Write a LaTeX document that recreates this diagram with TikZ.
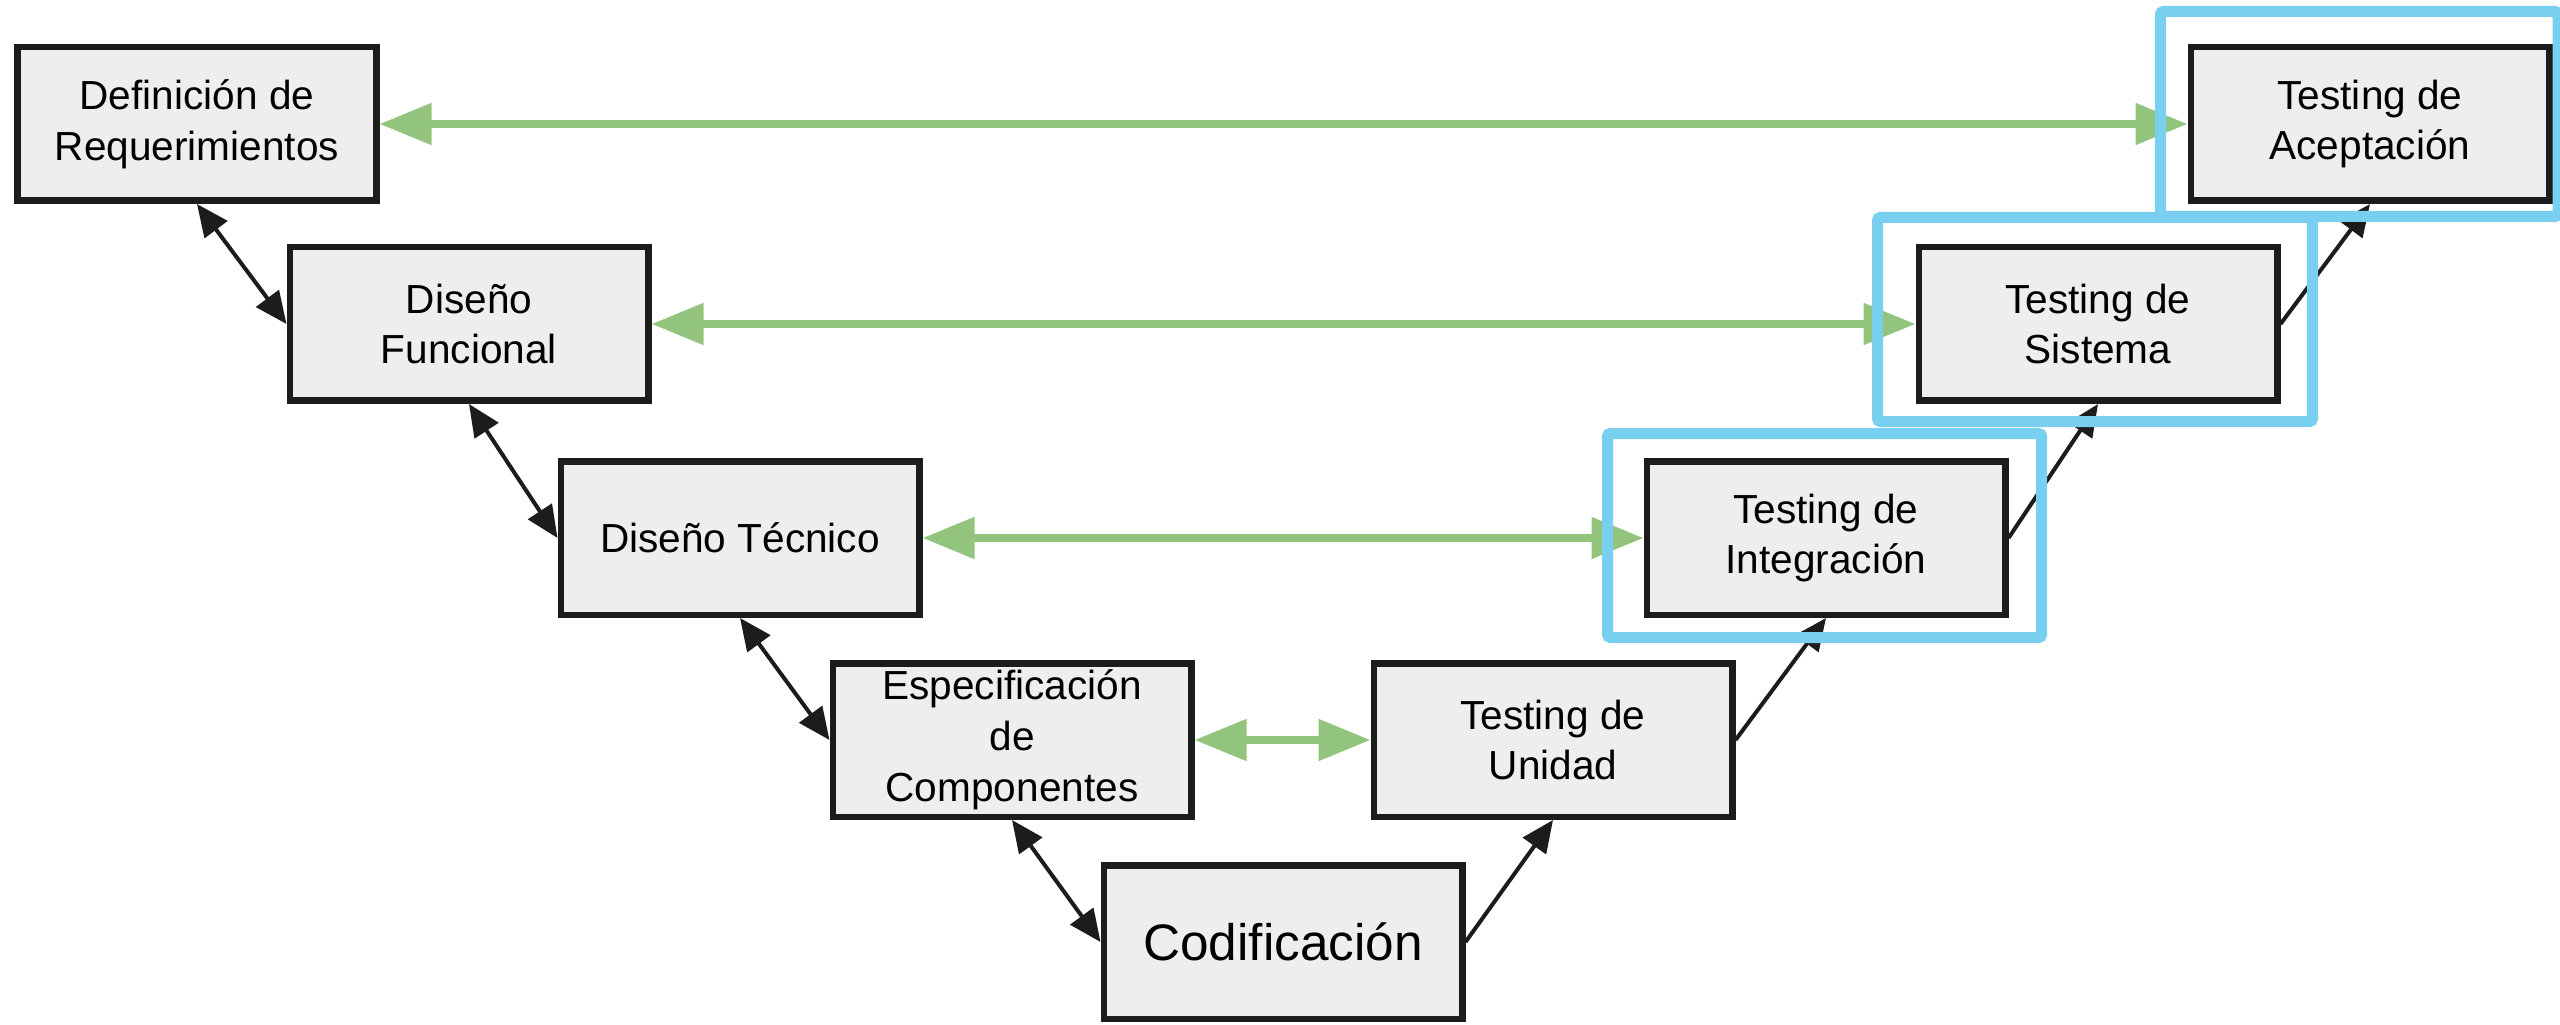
\documentclass[tikz,border=0pt]{standalone}
\usepackage{fontspec}
\setmainfont{Liberation Sans}
\usetikzlibrary{arrows.meta}

\definecolor{boxgray}{HTML}{EEEEEE}
\definecolor{edgeblack}{HTML}{1C1C1C}
\definecolor{linkgreen}{HTML}{93C47D}
\definecolor{framecyan}{HTML}{78CFF0}

\tikzset{
  phase/.style={draw=edgeblack, fill=boxgray, line width=0.065cm,
    minimum width=3.585cm, minimum height=1.535cm, inner sep=1pt,
    align=center, font=\fontsize{11.55}{14.5}\selectfont},
  upflow/.style={draw=edgeblack, line width=0.04cm,
    -{Triangle[length=0.32cm,width=0.28cm]}},
  bothflow/.style={draw=edgeblack, line width=0.04cm,
    {Triangle[length=0.32cm,width=0.28cm]}-{Triangle[length=0.32cm,width=0.28cm]}},
  greenlink/.style={draw=linkgreen, line width=0.08cm,
    {Triangle[length=0.52cm,width=0.4cm]}-{Triangle[length=0.52cm,width=0.4cm]}},
  testframe/.style={draw=framecyan, line width=0.11cm, rounded corners=0.03cm}
}

\begin{document}
\begin{tikzpicture}
\useasboundingbox (0,0) rectangle (25.6,10.24);

% left branch
\node[phase] (req) at (1.97,9.00) {Definición de\\Requerimientos};
\node[phase] (fun) at (4.69,7.00) {Diseño\\Funcional};
\node[phase] (tec) at (7.40,4.86) {Diseño Técnico};
\node[phase] (comp) at (10.12,2.84) {Especificación\\de\\Componentes};

% bottom
\node[phase, font=\fontsize{14.6}{17}\selectfont] (cod) at (12.83,0.82) {Codificación};

% right branch
\node[phase] (tu) at (15.53,2.84) {Testing de\\Unidad};
\node[phase] (ti) at (18.26,4.86) {Testing de\\Integración};
\node[phase] (ts) at (20.98,7.00) {Testing de\\Sistema};
\node[phase] (ta) at (23.70,9.00) {Testing de\\Aceptación};

% black arrows
\draw[bothflow] (req.south) -- (fun.west);
\draw[bothflow] (fun.south) -- (tec.west);
\draw[bothflow] (tec.south) -- (comp.west);
\draw[bothflow] (comp.south) -- (cod.west);

\draw[upflow] (cod.east) -- (tu.south);
\draw[upflow] (tu.east) -- (ti.south);
\draw[upflow] (ti.east) -- (ts.south);
\draw[upflow] (ts.east) -- (ta.south);

% green arrows
\draw[greenlink] (req.east) -- (ta.west);
\draw[greenlink] (fun.east) -- (ts.west);
\draw[greenlink] (tec.east) -- (ti.west);
\draw[greenlink] (comp.east) -- (tu.west);

% frames
\draw[testframe] (16.075,3.865) rectangle (20.415,5.905);
\draw[testframe] (18.775,6.025) rectangle (23.125,8.065);
\draw[testframe] (21.605,8.075) rectangle (25.58,10.125);

\end{tikzpicture}
\end{document}
